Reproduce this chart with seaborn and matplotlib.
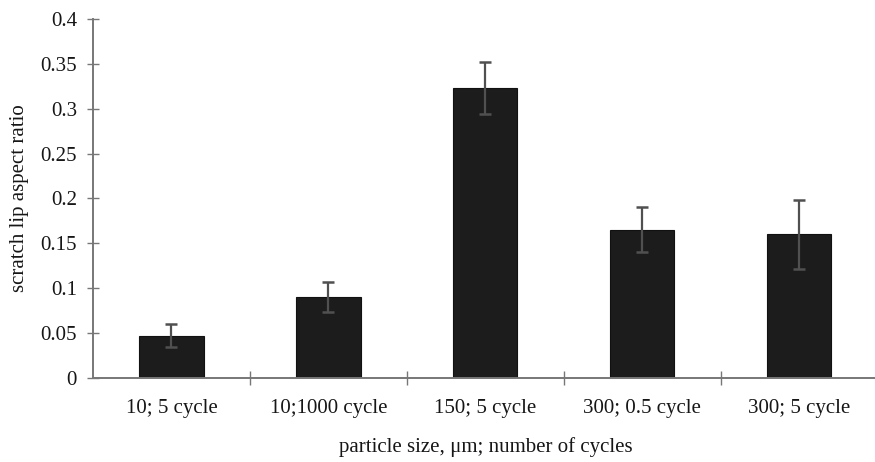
import matplotlib
matplotlib.use("Agg")
import matplotlib.pyplot as plt
import seaborn as sns
import pandas as pd
from matplotlib.ticker import FixedLocator

# Scratch lip aspect ratio by particle size and cycle count
categories = ["10; 5 cycle", "10;1000 cycle", "150; 5 cycle", "300; 0.5 cycle", "300; 5 cycle"]
aspect_ratio = [0.047, 0.090, 0.323, 0.165, 0.160]
std_error = [0.013, 0.017, 0.029, 0.025, 0.038]
y_ticks = [0, 0.05, 0.1, 0.15, 0.2, 0.25, 0.3, 0.35, 0.4]
y_tick_labels = ["0", "0.05", "0.1", "0.15", "0.2", "0.25", "0.3", "0.35", "0.4"]

df = pd.DataFrame({"condition": categories, "ratio": aspect_ratio, "err": std_error})

sns.set_theme(style="white")
plt.rcParams["font.family"] = ["Liberation Serif", "DejaVu Serif"]

FS = 15
TXT = "#161616"

fig = plt.figure(figsize=(8.75, 4.62), dpi=100)
ax = fig.add_axes([0.1063, 0.1818, 0.8967, 0.7771])

sns.barplot(data=df, x="condition", y="ratio", ax=ax, color="#1c1c1c",
            width=0.41, edgecolor="#111111", linewidth=0.8, errorbar=None,
            saturation=1)

xpos = range(len(categories))
ax.errorbar(xpos, df["ratio"], yerr=df["err"], fmt="none", ecolor="#505050",
            elinewidth=1.6, capsize=4.5, capthick=1.8, zorder=3)

ax.set_xlim(-0.5, len(categories) - 0.5)
ax.set_ylim(0, 0.4)
ax.set_yticks(y_ticks, y_tick_labels)

ax.xaxis.set_minor_locator(FixedLocator([i + 0.5 for i in range(len(categories) - 1)]))
ax.tick_params(axis="x", which="major", length=0, pad=15, labelsize=FS, colors=TXT)
ax.tick_params(axis="x", which="minor", direction="inout", length=10, width=1.0,
               color="#777777", bottom=True)
ax.tick_params(axis="y", which="major", direction="inout", length=9, width=1.0,
               color="#777777", left=True, pad=7, labelsize=FS, labelcolor=TXT)

for side in ["top", "right"]:
    ax.spines[side].set_visible(False)
for side in ["left", "bottom"]:
    ax.spines[side].set_color("#777777")
    ax.spines[side].set_linewidth(1.4)

ax.set_xlabel("particle size, μm; number of cycles", fontsize=FS, color=TXT, labelpad=14)
ax.set_ylabel("scratch lip aspect ratio", fontsize=FS, color=TXT, labelpad=8)

fig.savefig("out.png", dpi=100)
